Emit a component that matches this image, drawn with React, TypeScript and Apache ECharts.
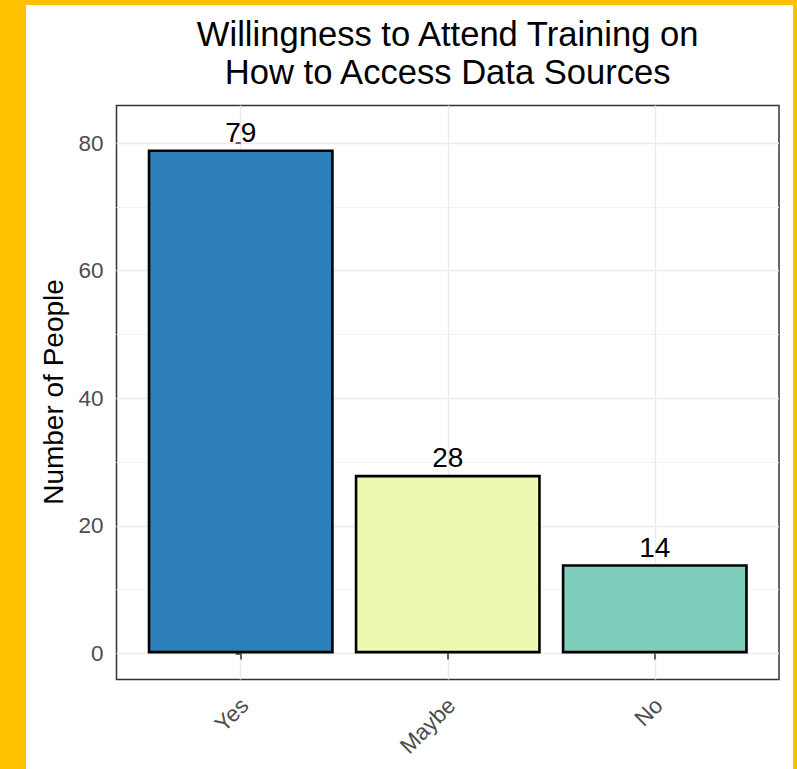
import React, { useEffect, useRef } from "react";
import * as echarts from "echarts";

const categories = ["Yes", "Maybe", "No"];
const counts = [79, 28, 14];
const barColors = ["#2C7FB8", "#EDF8B1", "#7FCDBB"];
const yTicks = [0, 20, 40, 60, 80];
const yMinorTicks = [10, 30, 50, 70];
const titleLines = ["Willingness to Attend Training on", "How to Access Data Sources"];
const yTitle = "Number of People";

const FONT = '"Liberation Sans", Arial, Helvetica, sans-serif';

export default function App() {
  const ref = useRef<HTMLDivElement>(null);
  useEffect(() => {
    if (!ref.current) return;
    const chart = echarts.init(ref.current, undefined, { renderer: "svg" });
    const xIdx = categories.map((_, i) => i);
    const yMin = -4.08;
    const yMax = 85.9;
    chart.setOption({
      animation: false,
      backgroundColor: "#FFFFFF",
      textStyle: { fontFamily: FONT },
      grid: {
        left: 90.5,
        top: 100.5,
        right: 14,
        bottom: 89.5,
        show: true,
        borderColor: "#333333",
        borderWidth: 1.5,
        backgroundColor: "transparent",
        containLabel: false,
      },
      xAxis: {
        type: "value",
        min: -0.6,
        max: 2.6,
        axisLine: { show: false },
        axisTick: {
          show: true,
          customValues: xIdx,
          length: 6,
          lineStyle: { color: "#333333", width: 1.5 },
        },
        axisLabel: {
          show: true,
          customValues: xIdx,
          formatter: (v: number) => categories[Math.round(v)] ?? "",
          rotate: 45,
          align: "right",
          verticalAlign: "top",
          padding: [0, 6, 0, 0],
          margin: 10,
          fontSize: 22.5,
          color: "#4D4D4D",
          fontFamily: FONT,
        },
        splitLine: { show: true, lineStyle: { color: "#EBEBEB", width: 1.4 } },
      },
      yAxis: [
        {
          type: "value",
          min: yMin,
          max: yMax,
          axisLine: { show: false },
          axisTick: {
            show: true,
            customValues: yTicks,
            length: 5,
            lineStyle: { color: "#333333", width: 1.5 },
          },
          axisLabel: {
            show: true,
            customValues: yTicks,
            margin: 13,
            fontSize: 22.5,
            color: "#4D4D4D",
            fontFamily: FONT,
          },
          splitLine: { show: true, lineStyle: { color: "#EBEBEB", width: 1.4 } },
        },
        {
          type: "value",
          min: yMin,
          max: yMax,
          position: "left",
          axisLine: { show: false },
          axisTick: { show: false, customValues: yMinorTicks },
          axisLabel: { show: false, customValues: yMinorTicks },
          splitLine: { show: true, lineStyle: { color: "#F2F2F2", width: 1 } },
        },
      ],
      series: [
        {
          type: "bar",
          yAxisIndex: 0,
          barWidth: 186,
          data: counts.map((v, i) => ({
            value: [i, v],
            itemStyle: { color: barColors[i], borderColor: "#000000", borderWidth: 2.6 },
          })),
          label: {
            show: true,
            position: "top",
            distance: 3,
            fontSize: 28,
            color: "#000000",
            fontFamily: FONT,
            formatter: (p: any) => String(p.value[1]),
          },
          z: 5,
        },
      ],
      graphic: [
        {
          type: "text",
          x: 421.7,
          y: 28.6,
          style: {
            text: titleLines[0],
            fontSize: 34.6,
            fontFamily: FONT,
            fill: "#000000",
            align: "center",
            verticalAlign: "middle",
          },
        },
        {
          type: "text",
          x: 421.7,
          y: 66.9,
          style: {
            text: titleLines[1],
            fontSize: 34.6,
            fontFamily: FONT,
            fill: "#000000",
            align: "center",
            verticalAlign: "middle",
          },
        },
        {
          type: "text",
          x: 27.5,
          y: 387,
          rotation: Math.PI / 2,
          style: {
            text: yTitle,
            fontSize: 28,
            fontFamily: FONT,
            fill: "#000000",
            align: "center",
            verticalAlign: "middle",
          },
        },
      ],
    });
    return () => chart.dispose();
  }, []);
  return (
    <div
      style={{
        position: "absolute",
        left: 0,
        top: 0,
        width: 797,
        height: 769,
        background: "#FFC000",
        overflow: "hidden",
      }}
    >
      <div
        ref={ref}
        style={{ position: "absolute", left: 26, top: 5, width: 767, height: 764, background: "#FFFFFF" }}
      />
    </div>
  );
}
